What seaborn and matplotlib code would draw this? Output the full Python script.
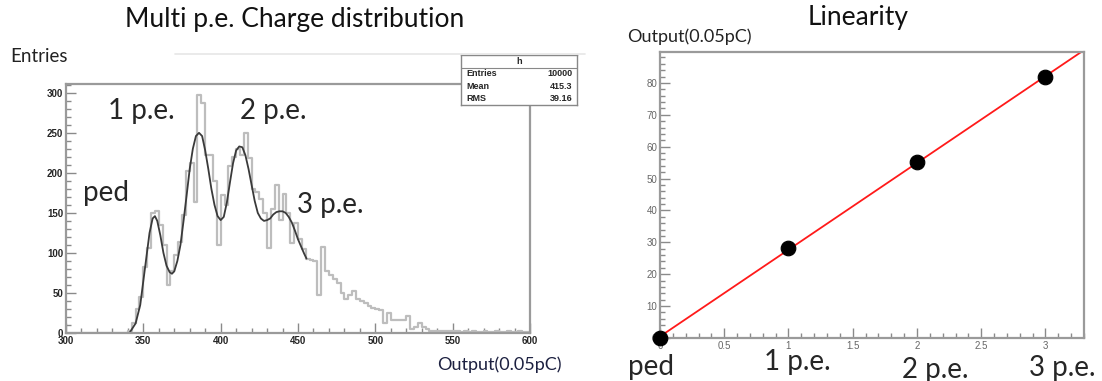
import numpy as np
import pandas as pd
import matplotlib
matplotlib.use("Agg")
import matplotlib.pyplot as plt
import seaborn as sns
from matplotlib.ticker import MultipleLocator

# ---- data: multi p.e. charge histogram (bins of 2.5 from 300) ----
hist_start = 300
bin_width = 2.5
counts = [0, 0, 0, 0, 0, 0, 0, 0, 0, 0, 0, 0, 0, 0, 0, 0,
          2, 12, 30, 45, 83, 106, 150, 152, 135, 110,
          60, 77, 97, 114, 147, 202, 212, 164, 297, 287,
          222, 222, 190, 110, 172, 160, 209, 220, 230, 222,
          250, 219, 180, 176, 167, 150, 106, 155, 185, 141,
          173, 150, 112, 138, 118, 105, 93, 91, 90, 47,
          108, 77, 73, 68, 62, 50, 42, 48, 52, 43,
          40, 37, 34, 31, 30, 29, 13, 25, 16, 16,
          16, 16, 21, 5, 8, 12, 8, 5, 3, 2,
          3, 2, 3, 2, 2, 3, 1, 2, 1, 2,
          1, 1, 2, 1, 1, 2, 1, 1, 2, 1,
          1, 2, 1, 1]

# fit curve
fit_x = [341, 345, 348, 350, 352, 354, 356, 357.5, 359, 361, 363, 365, 367, 368.5,
         370, 372, 374, 376, 378, 380, 382, 384, 386, 388, 390, 392, 394, 396,
         398, 400, 402, 404, 406, 408, 410, 412, 414, 416, 418, 420, 422, 424,
         426, 428, 430, 432, 434, 436, 438, 440, 442, 444, 446, 448, 450, 452,
         454, 455.5]
fit_y = [0, 12, 35, 65, 95, 125, 143, 146, 140, 122, 100, 84, 76, 74,
         77, 90, 110, 140, 172, 205, 230, 246, 250, 246, 228, 205, 180, 160,
         146, 141, 145, 163, 188, 212, 228, 233, 232, 222, 205, 185, 165, 150,
         143, 140, 141, 143, 148, 151, 152, 152, 150, 145, 138, 128, 117, 108,
         99, 93]

stats_names = ["Entries", "Mean", "RMS"]
stats_values = ["10000", "415.3", "39.16"]

peak_labels = ["ped", "1 p.e.", "2 p.e.", "3 p.e."]

# ---- data: linearity ----
n_pe = [0, 1, 2, 3]
output = [0.0, 28.3, 55.1, 81.8]

W, H = 1102, 381


def fx(px):
    return px / W


def fy(py):
    return 1 - py / H


sns.set_style("white")
plt.rcParams["font.family"] = ["Lato", "DejaVu Sans"]

fig = plt.figure(figsize=(W / 100, H / 100), dpi=100)

frame_col = "#9a9a9a"


def root_axes(ax):
    for s in ax.spines.values():
        s.set_color(frame_col)
        s.set_linewidth(1.6)
    ax.tick_params(which="both", direction="in", bottom=True, left=True,
                   top=False, right=False, color="#8a8a8a", width=1.0)
    ax.tick_params(which="major", length=7)
    ax.tick_params(which="minor", length=3.5)


# ---------------- left: histogram ----------------
ax1 = fig.add_axes([fx(66), fy(333), fx(530 - 66), (333 - 84) / H])
bin_centers = hist_start + bin_width * (np.arange(len(counts)) + 0.5)
hist_df = pd.DataFrame({"charge": bin_centers, "n": np.asarray(counts, dtype=float)})
hist_end = hist_start + bin_width * len(counts)
sns.histplot(data=hist_df, x="charge", weights="n", binwidth=bin_width,
             binrange=(hist_start, hist_end), element="step",
             fill=False, color="#bdbdbd", linewidth=1.6, ax=ax1)
sns.lineplot(x=fit_x, y=fit_y, color="#3a3a3a", linewidth=1.3, ax=ax1)
ax1.set_xlim(300, 600)
ax1.set_ylim(0, 311)
ax1.set_xlabel("")
ax1.set_ylabel("")
ax1.xaxis.set_major_locator(MultipleLocator(50))
ax1.xaxis.set_minor_locator(MultipleLocator(10))
ax1.yaxis.set_major_locator(MultipleLocator(50))
ax1.yaxis.set_minor_locator(MultipleLocator(10))
root_axes(ax1)
for lab in ax1.get_xticklabels() + ax1.get_yticklabels():
    lab.set_fontfamily("Liberation Sans")
    lab.set_fontweight("bold")
    lab.set_fontsize(7)
ax1.tick_params(axis="x", pad=2)
ax1.tick_params(axis="y", pad=2)

big = 20
fig.text(fx(295), fy(20), "Multi p.e. Charge distribution", ha="center", va="center",
         fontsize=19, color="#111111")
fig.text(fx(10), fy(57), "Entries", ha="left", va="center", fontsize=13.5, color="#222222")
fig.text(fx(437), fy(365), "Output(0.05pC)", ha="left", va="center", fontsize=13,
         color="#1c2040")
fig.text(fx(83), fy(193), peak_labels[0], ha="left", va="center", fontsize=big)
fig.text(fx(108), fy(111), peak_labels[1], ha="left", va="center", fontsize=big)
fig.text(fx(240), fy(111), peak_labels[2], ha="left", va="center", fontsize=big)
fig.text(fx(297), fy(205), peak_labels[3], ha="left", va="center", fontsize=big)

# faint pad edge line
fig.add_artist(plt.Line2D([fx(175), fx(585)], [fy(54), fy(54)], color="#e6e6e6", lw=1.2))

# stats box
sb = fig.add_axes([fx(461), fy(105), fx(577 - 461), (105 - 55) / H])
sb.set_xticks([])
sb.set_yticks([])
sb.set_facecolor("white")
for s in sb.spines.values():
    s.set_color("#888888")
    s.set_linewidth(1.0)
sb.set_xlim(0, 1)
sb.set_ylim(0, 4)
sb.axhline(3, color="#888888", lw=0.8)
sb.text(0.5, 3.5, "h", ha="center", va="center", fontsize=6.5, fontweight="bold",
        family="Liberation Sans")
for i, (nm, val) in enumerate(zip(stats_names, stats_values)):
    yy = 2.5 - i
    sb.text(0.05, yy, nm, ha="left", va="center", fontsize=6.5, fontweight="bold",
            family="Liberation Sans")
    sb.text(0.96, yy, val, ha="right", va="center", fontsize=6.5, fontweight="bold",
            family="Liberation Sans")

# ---------------- right: linearity ----------------
ax2 = fig.add_axes([fx(660), fy(338), fx(1084 - 660), (338 - 52) / H])
ax2.set_xlim(0, 3.3)
ax2.set_ylim(0, 89.7)
sns.regplot(x=n_pe, y=output, scatter=False, ci=None, truncate=False,
            line_kws={"color": "#ff1a1a", "lw": 1.3}, ax=ax2)
sns.scatterplot(x=n_pe, y=output, color="black", s=110, edgecolor="black", zorder=5,
                clip_on=False, ax=ax2)
ax2.set_xlim(0, 3.3)
ax2.set_ylim(0, 89.7)
ax2.set_xlabel("")
ax2.set_ylabel("")
ax2.xaxis.set_major_locator(MultipleLocator(0.5))
ax2.xaxis.set_minor_locator(MultipleLocator(0.1))
ax2.yaxis.set_major_locator(MultipleLocator(10))
ax2.yaxis.set_minor_locator(MultipleLocator(2))
root_axes(ax2)
ax2.set_xticks([0, 0.5, 1, 1.5, 2, 2.5, 3])
ax2.set_xticklabels(["0", "0.5", "1", "1.5", "2", "2.5", "3"])
for lab in ax2.get_xticklabels() + ax2.get_yticklabels():
    lab.set_fontfamily("Liberation Sans")
    lab.set_fontsize(7)
    lab.set_color("#666666")
ax2.tick_params(axis="x", pad=2)
ax2.tick_params(axis="y", pad=2)

fig.text(fx(858), fy(17), "Linearity", ha="center", va="center", fontsize=19, color="#111111")
fig.text(fx(627), fy(37), "Output(0.05pC)", ha="left", va="center", fontsize=13,
         color="#222222")
fig.text(fx(628), fy(367), peak_labels[0], ha="left", va="center", fontsize=big)
fig.text(fx(797), fy(362), peak_labels[1], ha="center", va="center", fontsize=big)
fig.text(fx(935), fy(370), peak_labels[2], ha="center", va="center", fontsize=big)
fig.text(fx(1062), fy(368), peak_labels[3], ha="center", va="center", fontsize=big)

fig.savefig("out.png", dpi=100)
